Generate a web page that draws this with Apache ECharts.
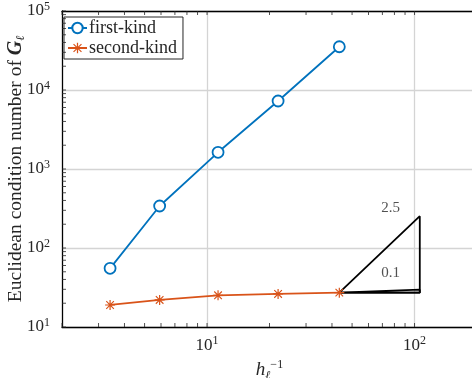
<!DOCTYPE html>
<html><head><meta charset="utf-8">
<script src="https://cdn.jsdelivr.net/npm/echarts@6/dist/echarts.min.js"></script>
<style>html,body{margin:0;padding:0;background:#fff}#c{width:472px;height:378px}</style>
</head><body><div id="c"></div>
<script>
// Data
var hInv = [3.41, 5.91, 11.3, 22.0, 43.4];
var firstKind = [55.3, 340, 1627, 7260, 35300];
var secondKind = [19.0, 22.0, 25.2, 26.2, 27.2];
var slopeTri1 = [[43.4, 27.2], [106, 253], [106, 27.2], [43.4, 27.2]];
var slopeTri2 = [[43.4, 27.2], [106, 29.7], [106, 27.2], [43.4, 27.2]];
var slopeLabels = [[76.6, 321, '2.5'], [76.6, 48.3, '0.1']];
var xRange = [2, 200];
var yRange = [10, 100000];
var xMajorTicks = [10, 100];
var yMajorTicks = [10, 100, 1000, 10000, 100000];
var xMinorTicks = [2,3,4,5,6,7,8,9,10,20,30,40,50,60,70,80,90,100,200];
var yMinorTicks = [];
[10,100,1000,10000].forEach(function(d){for(var k=1;k<=9;k++){yMinorTicks.push(d*k);}});
yMinorTicks.push(100000);

var FONT = '"Liberation Serif", "DejaVu Serif", serif';
var INK = '#262626';
var BLUE = '#0072BD', ORANGE = '#D95319';
var ast = 'path://M4.4 0 L5.6 0 L5.6 10 L4.4 10 Z M0 4.4 L10 4.4 L10 5.6 L0 5.6 Z M0.8 1.6 L1.6 0.8 L9.2 8.4 L8.4 9.2 Z M8.4 0.8 L9.2 1.6 L1.6 9.2 L0.8 8.4 Z';

function pow10(v){
  var e = Math.round(Math.log10(v));
  return '{b|10}{s|' + e + '}';
}
var tickRich = {
  b: {fontFamily: FONT, fontSize: 17, color: INK},
  s: {fontFamily: FONT, fontSize: 12, color: INK, verticalAlign: 'bottom', padding: [0,0,9,0]}
};
function pair(xs, ys){ return xs.map(function(x,i){return [x, ys[i]];}); }

// inside tick marks, placed through the axes' own scales
function tickSeries(name, data, size, offset){
  return {name: name, type: 'scatter', data: data, symbol: 'rect', symbolSize: size,
    symbolOffset: offset, itemStyle: {color: INK}, silent: true, clip: false, z: 6};
}
var xTicksBottom = xMinorTicks.map(function(v){ return [v, yRange[0]]; });
var xTicksTop = xMinorTicks.map(function(v){ return [v, yRange[1]]; });
var yTicksLeft = yMinorTicks.map(function(v){ return [xRange[0], v]; });

var chart = echarts.init(document.getElementById('c'), null, {renderer: 'canvas'});
chart.setOption({
  animation: false,
  grid: {left: 62, top: 11, right: -5, bottom: 51, containLabel: false, outerBoundsMode: 'none'},
  legend: {
    data: ['first-kind', 'second-kind'],
    left: 64, top: 17, orient: 'vertical',
    backgroundColor: '#fff', borderColor: INK, borderWidth: 1,
    padding: [2, 6, 2, 3], itemGap: 2, itemWidth: 19, itemHeight: 13,
    textStyle: {fontFamily: FONT, fontSize: 18, color: INK, padding: [0,0,0,-3]}
  },
  xAxis: [{
    type: 'log', logBase: 10, min: xRange[0], max: xRange[1], position: 'bottom',
    name: '{h|h}{sub|ℓ}{sup|−1}', nameLocation: 'middle', nameGap: 27,
    nameTextStyle: {rich: {
      h: {fontFamily: FONT, fontSize: 19, fontStyle: 'italic', color: INK},
      sub: {fontFamily: FONT, fontSize: 12, fontStyle: 'italic', color: INK, verticalAlign: 'top', padding: [11,0,0,0]},
      sup: {fontFamily: FONT, fontSize: 12, color: INK, verticalAlign: 'bottom', padding: [0,0,11,0]}
    }},
    axisLine: {show: true, onZero: false, lineStyle: {color: '#000', width: 1.3}},
    axisTick: {show: false, customValues: xMajorTicks},
    axisLabel: {show: true, customValues: xMajorTicks, formatter: pow10, rich: tickRich, margin: 8},
    splitLine: {show: true, lineStyle: {color: '#d4d4d4', width: 1.3}}
  }, {
    type: 'log', logBase: 10, min: xRange[0], max: xRange[1], position: 'top',
    axisLine: {show: true, onZero: false, lineStyle: {color: '#000', width: 1.3}},
    axisTick: {show: false}, axisLabel: {show: false}, splitLine: {show: false}
  }],
  yAxis: [{
    type: 'log', logBase: 10, min: yRange[0], max: yRange[1], position: 'left',
    name: '{t|Euclidean condition number of }{g|G}{sub|ℓ}', nameLocation: 'middle', nameGap: 35,
    nameMoveOverlap: false,
    nameTextStyle: {rich: {
      t: {fontFamily: FONT, fontSize: 19.5, color: INK},
      g: {fontFamily: FONT, fontSize: 20, fontWeight: 'bold', fontStyle: 'italic', color: INK},
      sub: {fontFamily: FONT, fontSize: 12, fontStyle: 'italic', color: INK, verticalAlign: 'top', padding: [10,0,0,0]}
    }},
    axisLine: {show: true, onZero: false, lineStyle: {color: '#000', width: 1.3}},
    axisTick: {show: false, customValues: yMajorTicks},
    axisLabel: {show: true, customValues: yMajorTicks, formatter: pow10, rich: tickRich, margin: 12},
    splitLine: {show: true, lineStyle: {color: '#d4d4d4', width: 1.3}}
  }],
  series: [
    tickSeries('xTicksBottom', xTicksBottom, [1, 4], [0, -2]),
    tickSeries('xTicksTop', xTicksTop, [1, 4], [0, 2]),
    tickSeries('yTicksLeft', yTicksLeft, [4, 1], [2, 0]),
    {name: 'slope1', type: 'line', data: slopeTri1, symbol: 'none', silent: true,
     xAxisIndex: 1, lineStyle: {color: '#000', width: 1.8}},
    {name: 'slope2', type: 'line', data: slopeTri2, symbol: 'none', silent: true,
     xAxisIndex: 1, lineStyle: {color: '#000', width: 1.8}},
    {name: 'labels', type: 'scatter', data: slopeLabels, symbolSize: 1, itemStyle: {color: 'rgba(0,0,0,0)'},
     label: {show: true, position: 'inside', formatter: function(p){return p.value[2];},
       fontFamily: FONT, fontSize: 15, color: INK}},
    {name: 'first-kind', type: 'line', data: pair(hInv, firstKind),
     symbol: 'circle', symbolSize: 11,
     itemStyle: {color: '#fff', borderColor: BLUE, borderWidth: 1.8},
     lineStyle: {color: BLUE, width: 1.8}},
    {name: 'second-kind', type: 'line', data: pair(hInv, secondKind),
     symbol: ast, symbolSize: 10,
     itemStyle: {color: ORANGE},
     lineStyle: {color: ORANGE, width: 1.8}}
  ]
});
</script></body></html>
